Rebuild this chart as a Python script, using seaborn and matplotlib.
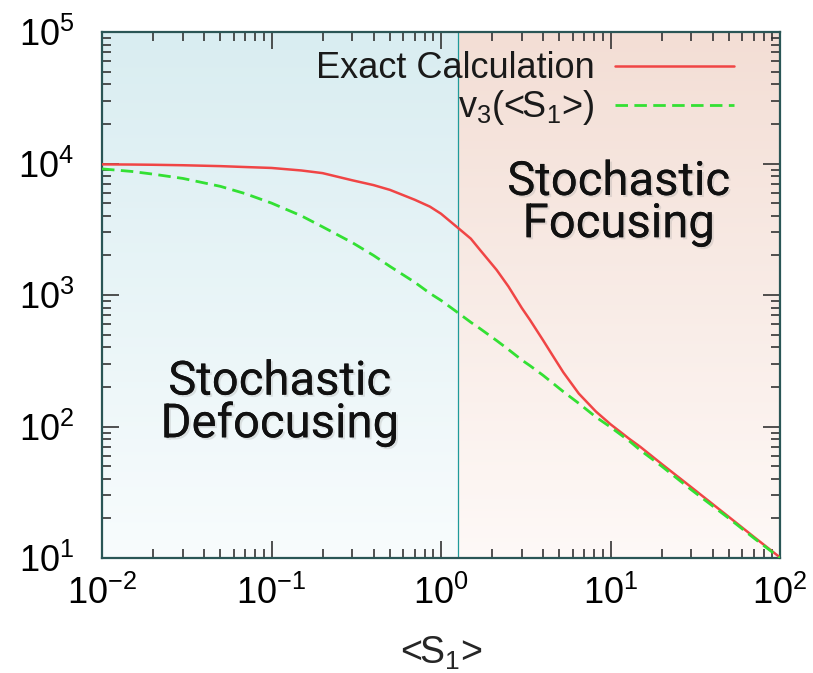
import numpy as np
import pandas as pd
import matplotlib
matplotlib.use("Agg")
import matplotlib.pyplot as plt
import matplotlib.patheffects as pe
from matplotlib.colors import LinearSegmentedColormap
import seaborn as sns

# values (log-log axes)
s1 = [0.01, 0.015, 0.02, 0.03, 0.05, 0.07, 0.1, 0.15, 0.2, 0.3, 0.4, 0.5,
      0.7, 0.86, 1.0, 1.27, 1.5, 1.7, 2.13, 2.5, 3.0, 3.35, 4.0, 4.6, 5.27,
      6.5, 8.2, 10, 13, 15, 20, 30, 50, 70, 100]
exact = [9850, 9820, 9780, 9700, 9550, 9400, 9250, 8850, 8450, 7450, 6850,
         6300, 5300, 4700, 4150, 3210, 2680, 2200, 1550, 1160, 795, 646, 453,
         340, 258, 178, 130, 104, 80, 70, 52, 34.5, 20.5, 14.5, 10.1]
v3 = [9100, 8700, 8300, 7700, 6700, 5900, 5000, 4000, 3300, 2500, 2000, 1650,
      1250, 1030, 910, 727, 620, 555, 450, 385, 320, 290, 245, 212, 184, 150,
      118, 99, 77, 66, 50, 33, 20, 14.2, 10]
s1_split = 1.26
x_lim = (1e-2, 1e2)
y_lim = (1e1, 1e5)

sns.set_style("ticks")
plt.rcParams['font.family'] = ['Liberation Sans', 'DejaVu Sans']
plt.rcParams['mathtext.fontset'] = 'custom'
plt.rcParams['mathtext.rm'] = 'Liberation Sans'
plt.rcParams['mathtext.it'] = 'Liberation Sans:italic'
plt.rcParams['mathtext.bf'] = 'Liberation Sans:bold'

fig = plt.figure(figsize=(8.13, 6.73), dpi=100)
fig.subplots_adjust(left=102/813, right=780/813, bottom=1-558/673, top=1-32/673)
ax = fig.add_subplot(111)

# gradient backgrounds either side of the split line
frac = (np.log10(s1_split) - np.log10(x_lim[0])) / (np.log10(x_lim[1]) - np.log10(x_lim[0]))
grad = np.linspace(1, 0, 256).reshape(-1, 1)
cm_left = LinearSegmentedColormap.from_list("l", ["#f8fcfd", "#d9edf1"])
cm_right = LinearSegmentedColormap.from_list("r", ["#fef9f7", "#f3ded5"])
ax.imshow(grad, cmap=cm_left, extent=[0, frac, 0, 1], transform=ax.transAxes,
          aspect='auto', zorder=0, vmin=0, vmax=1)
ax.imshow(grad, cmap=cm_right, extent=[frac, 1, 0, 1], transform=ax.transAxes,
          aspect='auto', zorder=0, vmin=0, vmax=1)
ax.axvline(s1_split, color="#1f9a9a", lw=0.9, zorder=1)

df = pd.DataFrame({"s1": s1, "exact": exact, "v3": v3})
sns.lineplot(data=df, x="s1", y="exact", ax=ax, color="#f04545", lw=1.8,
             label="Exact Calculation", zorder=3)
sns.lineplot(data=df, x="s1", y="v3", ax=ax, color="#33e033", lw=2.0,
             label=r"v$_3$(<S$_1$>)", zorder=3)
ax.lines[-1].set_dashes((4.5, 2.3))

ax.set_xscale("log")
ax.set_yscale("log")
ax.set_xlim(*x_lim)
ax.set_ylim(*y_lim)

ax.set_xlabel(r"<S$_1$>", fontsize=27, labelpad=16)
ax.set_ylabel("")
ax.tick_params(which="both", direction="in", top=True, right=True,
               colors="#333333", labelcolor="black", labelsize=26)
ax.tick_params(which="major", length=12, width=1.2, pad=13)
ax.tick_params(which="minor", length=6.5, width=1.2)
ax.tick_params(axis="y", which="major", pad=20)
for sp in ax.spines.values():
    sp.set_color("#2a5656")
    sp.set_linewidth(1.6)

leg = ax.legend(loc="upper right", bbox_to_anchor=(0.98, 1.025), frameon=False,
                markerfirst=False, fontsize=26, handlelength=3.3,
                labelspacing=0.05, handletextpad=0.55)
for t in leg.get_texts():
    t.set_color("#1a1a1a")

shadow = [pe.withSimplePatchShadow(offset=(1.5, -1.5), shadow_rgbFace="#999999", alpha=0.25),
          pe.Normal()]
for xt, yt, label in [(0.112, 151, "Stochastic\nDefocusing"), (11.2, 5000, "Stochastic\nFocusing")]:
    ax.text(xt, yt, label, ha="center", va="center", fontsize=34, linespacing=0.95,
            family=['Roboto', 'Liberation Sans'], fontweight='normal', color="#111111",
            path_effects=shadow, zorder=4)

fig.savefig("out.png", dpi=100)
